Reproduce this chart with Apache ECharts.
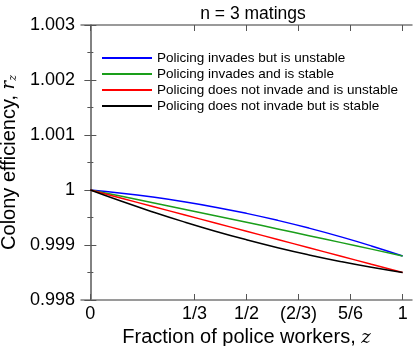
<!DOCTYPE html>
<html>
<head>
<meta charset="utf-8">
<script src="https://cdn.jsdelivr.net/npm/echarts@6/dist/echarts.min.js"></script>
<style>
  html, body { margin: 0; padding: 0; background: #fff; }
  #chart { width: 415px; height: 346px; }
</style>
</head>
<body>
<div id="chart"></div>
<script>
  // fraction of police workers
  let zValues = [0, 0.1, 0.2, 0.3, 0.4, 0.5, 0.6, 0.7, 0.8, 0.9, 1]
  // colony efficiency
  let invadesUnstable = [1, 0.999943, 0.999872, 0.999787, 0.999688, 0.999575, 0.999448, 0.999307, 0.999152, 0.998983, 0.9988]
  let invadesStable = [1, 0.999885, 0.999768, 0.99965, 0.999532, 0.999413, 0.999292, 0.99917, 0.999048, 0.998925, 0.9988]
  let notInvadeUnstable = [1, 0.99985, 0.9997, 0.99955, 0.9994, 0.99925, 0.9991, 0.99895, 0.9988, 0.99865, 0.9985]
  let notInvadeStable = [1, 0.999794, 0.999601, 0.99942, 0.999251, 0.999095, 0.998951, 0.99882, 0.998701, 0.998594, 0.9985]

  let legend = ['Policing invades but is unstable', 'Policing invades and is stable',
    'Policing does not invade and is unstable', 'Policing does not invade but is stable']
  let colors = ['#0000ff', '#1a9e1a', '#ff0000', '#000000']
  let xTicks = [0, 1 / 3, 1 / 2, 2 / 3, 5 / 6, 1]
  let xTickLabels = ['0', '1/3', '1/2', '(2/3)', '5/6', '1']

  let font = 'Liberation Sans'
  let myChart = echarts.init(document.getElementById('chart'))
  let series = []
  ;[invadesUnstable, invadesStable, notInvadeUnstable, notInvadeStable].forEach((vals, index) => {
    series.push({
      name: legend[index],
      type: 'line',
      showSymbol: false,
      symbol: 'none',
      smooth: true,
      lineStyle: { color: colors[index], width: 1.5 },
      itemStyle: { color: colors[index] },
      data: vals.map((v, i) => [zValues[i], v])
    })
  })

  let axisLine = { show: true, lineStyle: { color: '#7a7a7a', width: 1.5 } }
  let xAxisBase = {
    type: 'value',
    min: -0.03,
    max: 1.03,
    axisLine: axisLine,
    splitLine: { show: false },
    axisTick: { show: true, inside: true, length: 6, customValues: xTicks, lineStyle: { color: '#555' } }
  }
  let yAxisBase = {
    type: 'value',
    min: 0.998,
    max: 1.003,
    interval: 0.001,
    axisLine: axisLine,
    splitLine: { show: false },
    axisTick: { show: true, inside: true, length: 6, lineStyle: { color: '#555' } },
    minorTick: { show: true, splitNumber: 2, length: 3, lineStyle: { color: '#555' } }
  }

  let option = {
    animation: false,
    textStyle: { fontFamily: font },
    title: {
      text: 'n = 3 matings',
      left: 248,
      textAlign: 'center',
      top: 0,
      textStyle: { fontFamily: font, fontSize: 17.5, fontWeight: 'normal', color: '#000' }
    },
    legend: {
      data: legend,
      orient: 'vertical',
      left: 97,
      top: 46,
      icon: 'rect',
      itemWidth: 50,
      itemHeight: 2,
      itemGap: 2,
      textStyle: { fontFamily: font, fontSize: 13.5, color: '#000', lineHeight: 14 }
    },
    grid: { left: 81, right: 3, top: 25, bottom: 46, outerBoundsMode: 'none', containLabel: false },
    xAxis: [
      Object.assign({}, xAxisBase, {
        position: 'bottom',
        name: 'Fraction of police workers, {i|z}',
        nameLocation: 'middle',
        nameGap: 23,
        nameTextStyle: {
          fontFamily: font, fontSize: 20, color: '#000',
          rich: { i: { fontFamily: 'DejaVu Serif', fontStyle: 'italic', fontSize: 18, color: '#000' } }
        },
        axisLabel: {
          show: true,
          margin: 5,
          customValues: xTicks,
          fontFamily: font,
          fontSize: 18,
          color: '#000',
          formatter: v => {
            let idx = xTicks.findIndex(t => Math.abs(t - v) < 1e-6)
            return idx >= 0 ? xTickLabels[idx] : ''
          }
        }
      }),
      Object.assign({}, xAxisBase, {
        position: 'top',
        axisLabel: { show: false }
      })
    ],
    yAxis: [
      Object.assign({}, yAxisBase, {
        position: 'left',
        name: 'Colony efficiency, {i|r}{s|z}',
        nameLocation: 'middle',
        nameGap: 58,
        nameTextStyle: {
          fontFamily: font, fontSize: 20, color: '#000',
          rich: {
            i: { fontFamily: 'DejaVu Serif', fontStyle: 'italic', fontSize: 18, color: '#000' },
            s: { fontFamily: 'DejaVu Serif', fontStyle: 'italic', fontSize: 11, color: '#000', padding: [8, 0, 0, 0] }
          }
        },
        axisLabel: {
          show: true,
          margin: 6,
          fontFamily: font,
          fontSize: 18,
          color: '#000',
          formatter: v => String(parseFloat(v.toFixed(3)))
        }
      }),
      Object.assign({}, yAxisBase, {
        position: 'right',
        axisLabel: { show: false }
      })
    ],
    series: series
  }
  myChart.setOption(option)
</script>
</body>
</html>
